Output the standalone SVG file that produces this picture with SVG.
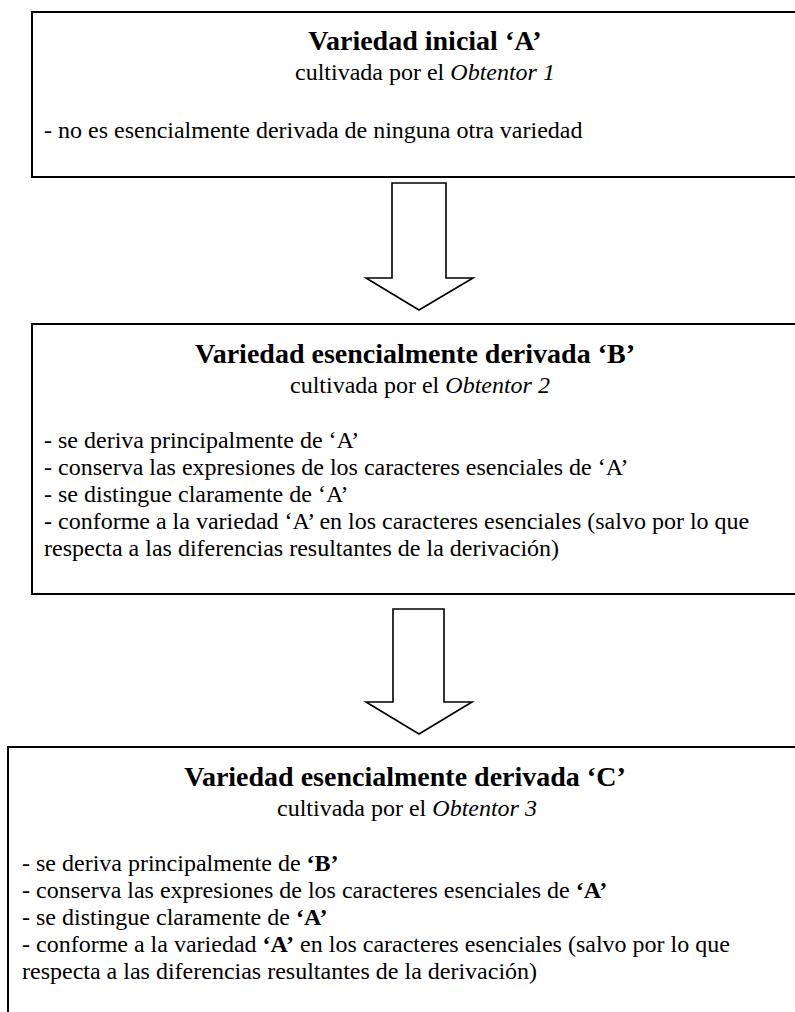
<svg xmlns="http://www.w3.org/2000/svg" width="795" height="1012" viewBox="0 0 795 1012">
<style>
text{font-family:"Liberation Serif","Times New Roman",serif;fill:#000}
.t{font-size:28px;font-weight:bold;text-anchor:middle}
.s{font-size:24px;text-anchor:middle}
.b{font-size:24px}
.i{font-style:italic}
.bb{font-weight:bold}
.box{fill:#fff;stroke:#000;stroke-width:2}
.arrow{fill:#fff;stroke:#000;stroke-width:1.6;stroke-linejoin:miter}
</style>
<rect width="795" height="1012" fill="#fff"/>
<g id="nodeA">
<rect class="box" x="32" y="12" width="800" height="165"/>
<text class="t" x="425" y="50">Variedad inicial ‘A’</text>
<text class="s" x="425" y="80">cultivada por el <tspan class="i">Obtentor 1</tspan></text>
<text class="b" x="44" y="138">- no es esencialmente derivada de ninguna otra variedad</text>
</g>
<g id="nodeB">
<rect class="box" x="32" y="324" width="800" height="270"/>
<text class="t" x="415" y="363">Variedad esencialmente derivada ‘B’</text>
<text class="s" x="420" y="393">cultivada por el <tspan class="i">Obtentor 2</tspan></text>
<text class="b" x="44" y="448">- se deriva principalmente de ‘A’</text>
<text class="b" x="44" y="475">- conserva las expresiones de los caracteres esenciales de ‘A’</text>
<text class="b" x="44" y="502">- se distingue claramente de ‘A’</text>
<text class="b" x="44" y="529">- conforme a la variedad ‘A’ en los caracteres esenciales (salvo por lo que</text>
<text class="b" x="44" y="556">respecta a las diferencias resultantes de la derivación)</text>
</g>
<g id="nodeC">
<rect class="box" x="8" y="747" width="800" height="300"/>
<text class="t" x="405" y="786">Variedad esencialmente derivada ‘C’</text>
<text class="s" x="407" y="816">cultivada por el <tspan class="i">Obtentor 3</tspan></text>
<text class="b" x="22" y="871">- se deriva principalmente de <tspan class="bb">‘B’</tspan></text>
<text class="b" x="22" y="898">- conserva las expresiones de los caracteres esenciales de <tspan class="bb">‘A’</tspan></text>
<text class="b" x="22" y="925">- se distingue claramente de <tspan class="bb">‘A’</tspan></text>
<text class="b" x="22" y="952">- conforme a la variedad <tspan class="bb">‘A’</tspan> en los caracteres esenciales (salvo por lo que</text>
<text class="b" x="22" y="979">respecta a las diferencias resultantes de la derivación)</text>
</g>
<g id="connectors">
<polygon class="arrow" points="392,183 446,183 446,278 473,278 419,310 366,278 392,278"/>
<polygon class="arrow" points="393,609 444,609 444,702 472,702 419,734 366,702 393,702"/>
</g>
</svg>
